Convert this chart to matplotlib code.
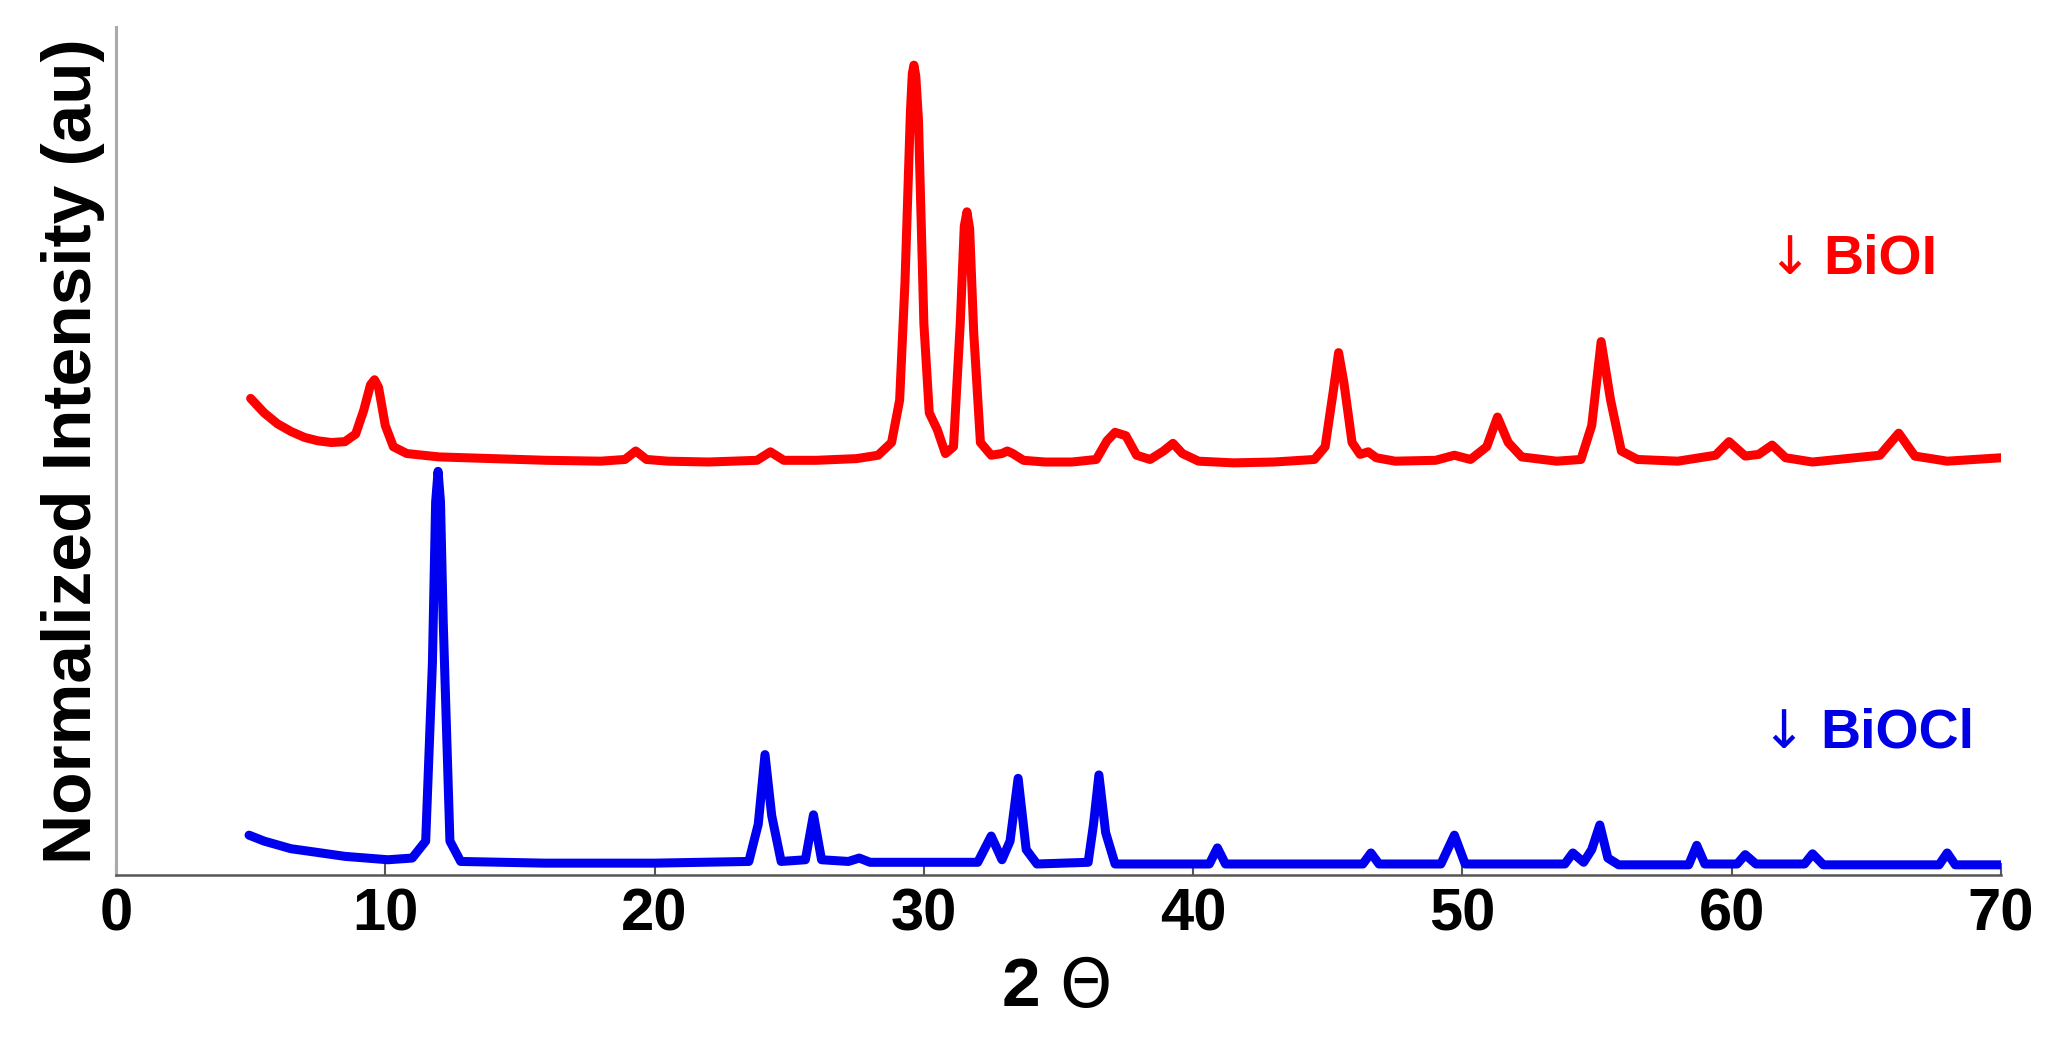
import matplotlib
matplotlib.use("Agg")
import matplotlib.pyplot as plt

# BiOI pattern (red, offset upward)
bioi_2theta = [
    5.0, 5.5, 6.0, 6.5, 7.0, 7.5, 8.0, 8.5, 8.9, 9.2,
    9.45, 9.6, 9.75, 10.0, 10.3, 10.8, 12, 14, 16, 18,
    18.9, 19.3, 19.7, 20.5, 22, 23.8, 24.3, 24.8, 26, 27.5,
    28.3, 28.8, 29.1, 29.3, 29.5, 29.57, 29.63, 29.7, 29.8, 30.0,
    30.2, 30.5, 30.8, 31.1, 31.35, 31.5, 31.6, 31.7, 31.85, 32.1,
    32.5, 32.9, 33.1, 33.3, 33.7, 34.5, 35.5, 36.4, 36.8, 37.1,
    37.5, 37.9, 38.4, 38.9, 39.25, 39.6, 40.2, 41.5, 43, 44.5,
    44.9, 45.2, 45.4, 45.6, 45.9, 46.2, 46.5, 46.8, 47.5, 49,
    49.7, 50.3, 50.9, 51.3, 51.7, 52.2, 53.5, 54.4, 54.8, 55.15,
    55.5, 55.9, 56.5, 58, 59.4, 59.9, 60.5, 61.0, 61.5, 62.0,
    63, 65.5, 66.2, 66.8, 68, 69.5, 70.0,
]
bioi_intensity = [
    0.562, 0.545, 0.532, 0.523, 0.516, 0.512, 0.510, 0.511, 0.520, 0.548,
    0.578, 0.584, 0.575, 0.530, 0.505, 0.497, 0.493, 0.491, 0.489, 0.488,
    0.490, 0.500, 0.490, 0.488, 0.487, 0.489, 0.499, 0.489, 0.489, 0.491,
    0.495, 0.510, 0.560, 0.700, 0.900, 0.945, 0.955, 0.942, 0.890, 0.650,
    0.545, 0.525, 0.497, 0.505, 0.650, 0.765, 0.782, 0.762, 0.640, 0.510,
    0.495, 0.497, 0.500, 0.497, 0.489, 0.487, 0.487, 0.490, 0.512, 0.522,
    0.518, 0.495, 0.490, 0.500, 0.509, 0.497, 0.488, 0.486, 0.487, 0.490,
    0.505, 0.570, 0.616, 0.580, 0.510, 0.496, 0.499, 0.492, 0.488, 0.489,
    0.495, 0.490, 0.505, 0.540, 0.510, 0.493, 0.488, 0.490, 0.530, 0.629,
    0.560, 0.500, 0.490, 0.488, 0.495, 0.511, 0.494, 0.496, 0.507, 0.492,
    0.487, 0.495, 0.521, 0.494, 0.488, 0.491, 0.492,
]

# BiOCl pattern (blue)
biocl_2theta = [
    4.94, 5.5, 6.5, 7.4, 8.5, 10.1, 11.0, 11.5, 11.75, 11.87,
    11.96, 12.05, 12.15, 12.4, 12.8, 15.9, 20, 23.5, 23.85, 24.1,
    24.35, 24.7, 25.6, 25.9, 26.2, 27.2, 27.6, 28.0, 32.0, 32.5,
    32.9, 33.2, 33.5, 33.8, 34.2, 36.1, 36.3, 36.5, 36.75, 37.1,
    40.6, 40.9, 41.2, 46.3, 46.6, 46.9, 49.2, 49.7, 50.1, 53.8,
    54.1, 54.5, 54.8, 55.1, 55.4, 55.8, 58.4, 58.7, 59.0, 60.2,
    60.5, 60.9, 62.7, 63.0, 63.4, 67.7, 68.0, 68.3, 70.0,
]
biocl_intensity = [
    0.047, 0.040, 0.031, 0.027, 0.022, 0.018, 0.020, 0.040, 0.250, 0.440,
    0.476, 0.440, 0.300, 0.040, 0.016, 0.014, 0.014, 0.016, 0.060, 0.142,
    0.070, 0.016, 0.018, 0.071, 0.018, 0.016, 0.020, 0.015, 0.015, 0.046,
    0.018, 0.040, 0.114, 0.030, 0.013, 0.015, 0.060, 0.118, 0.050, 0.013,
    0.013, 0.032, 0.013, 0.013, 0.026, 0.013, 0.013, 0.047, 0.013, 0.013,
    0.026, 0.015, 0.030, 0.059, 0.020, 0.012, 0.012, 0.035, 0.013, 0.013,
    0.024, 0.013, 0.013, 0.025, 0.012, 0.012, 0.026, 0.012, 0.012,
]

x_ticks = [0, 10, 20, 30, 40, 50, 60, 70]

plt.rcParams["font.family"] = ["Liberation Sans", "DejaVu Sans"]

fig = plt.figure(figsize=(20.64, 10.37), dpi=100)
ax = fig.add_axes([0.0562, 0.1562, 0.9133, 0.8178])

ax.plot(bioi_2theta, bioi_intensity, color="#ff0000", linewidth=6.5,
        solid_joinstyle="round", solid_capstyle="round")
ax.plot(biocl_2theta, biocl_intensity, color="#0000f0", linewidth=6.5,
        solid_joinstyle="round", solid_capstyle="round")

ax.set_xlim(0, 70)
ax.set_ylim(0, 1)
ax.set_xticks(x_ticks)
ax.set_xticklabels([str(t) for t in x_ticks], fontsize=43, fontweight="bold")
ax.set_yticks([])
ax.tick_params(axis="x", direction="in", length=9, width=1.5,
               color="#555555", pad=9)

for side in ("top", "right"):
    ax.spines[side].set_visible(False)
ax.spines["left"].set_color("#aaaaaa")
ax.spines["left"].set_linewidth(2.2)
ax.spines["bottom"].set_color("#555555")
ax.spines["bottom"].set_linewidth(1.8)

ax.set_ylabel("Normalized Intensity (au)", fontsize=50, fontweight="bold",
              labelpad=8)

# x label: bold "2" and a plain theta
fig.text(0.4947, 0.047, "2", fontsize=50, fontweight="bold",
         ha="center", va="center")
fig.text(0.5257, 0.047, "Θ", fontsize=48, family="DejaVu Sans",
         ha="center", va="center")

# sample labels
ax.text(61.3, 0.726, "↓", fontsize=38, color="#ff0000", family="DejaVu Sans",
        ha="left", va="center")
ax.text(63.4, 0.726, "BiOI", fontsize=40, fontweight="bold", color="#ff0000",
        ha="left", va="center")
ax.text(61.1, 0.167, "↓", fontsize=38, color="#0000e6", family="DejaVu Sans",
        ha="left", va="center")
ax.text(63.3, 0.167, "BiOCl", fontsize=40, fontweight="bold", color="#0000e6",
        ha="left", va="center")

fig.savefig("out.png", dpi=100)
